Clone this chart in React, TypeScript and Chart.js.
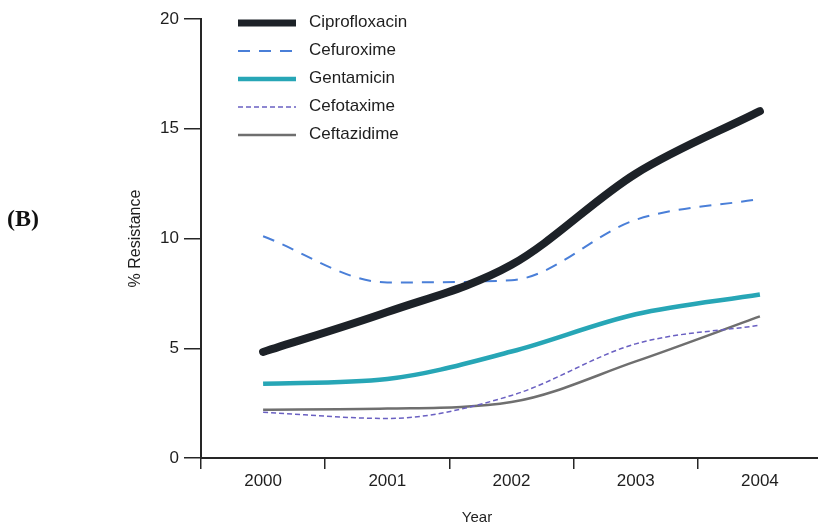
import React, { useEffect, useRef } from "react";
import { Chart, registerables } from "chart.js";

Chart.register(...registerables);

const years = ["2000", "2001", "2002", "2003", "2004"];
const ciprofloxacin = [4.83, 6.65, 8.8, 12.95, 15.8];
const cefuroxime = [10.1, 8.0, 8.1, 10.85, 11.8];
const gentamicin = [3.38, 3.6, 4.85, 6.55, 7.45];
const cefotaxime = [2.08, 1.8, 2.85, 5.2, 6.05];
const ceftazidime = [2.2, 2.25, 2.55, 4.4, 6.45];
const yTicks = [0, 5, 10, 15, 20];

const FONT = "'Liberation Sans', Arial, Helvetica, sans-serif";
const AXIS = "#262626";

const legendPlugin = {
  id: "insideLegend",
  afterDraw(chart: any, _args: any, opts: any) {
    const ctx = chart.ctx;
    const area = chart.chartArea;
    ctx.save();
    chart.data.datasets.forEach((ds: any, i: number) => {
      const y = area.top + opts.firstRow + i * opts.rowGap;
      const x0 = area.left + opts.lineStart;
      ctx.beginPath();
      ctx.strokeStyle = ds.borderColor;
      ctx.lineWidth = Math.min(ds.borderWidth, 7);
      ctx.setLineDash(ds.borderDash || []);
      ctx.moveTo(x0, y);
      ctx.lineTo(x0 + opts.lineLength, y);
      ctx.stroke();
      ctx.setLineDash([]);
      ctx.fillStyle = "#1e1e1e";
      ctx.font = `17px ${FONT}`;
      ctx.textAlign = "left";
      ctx.textBaseline = "middle";
      ctx.fillText(ds.label, x0 + opts.lineLength + opts.textGap, y - 1);
    });
    ctx.restore();
  },
};

const xTitlePlugin = {
  id: "xTitle",
  afterDraw(chart: any, _args: any, opts: any) {
    const ctx = chart.ctx;
    const area = chart.chartArea;
    ctx.save();
    ctx.fillStyle = "#1e1e1e";
    ctx.font = `15px ${FONT}`;
    ctx.textAlign = "center";
    ctx.textBaseline = "middle";
    ctx.fillText(opts.text, area.left + opts.dx, area.bottom + opts.dy);
    ctx.restore();
  },
};

export default function App() {
  const ref = useRef<HTMLCanvasElement | null>(null);
  useEffect(() => {
    if (!ref.current) return;
    const chart = new Chart(ref.current, {
      type: "line",
      data: {
        labels: years,
        datasets: [
          { label: "Ciprofloxacin", data: ciprofloxacin, borderColor: "#1d2228", borderWidth: 8, borderCapStyle: "round" },
          { label: "Cefuroxime", data: cefuroxime, borderColor: "#4a7fd8", borderWidth: 2, borderDash: [12, 9] },
          { label: "Gentamicin", data: gentamicin, borderColor: "#27a6b6", borderWidth: 4.5 },
          { label: "Cefotaxime", data: cefotaxime, borderColor: "#6a60c2", borderWidth: 1.5, borderDash: [5, 3] },
          { label: "Ceftazidime", data: ceftazidime, borderColor: "#6f6f6f", borderWidth: 2.5 },
        ] as any,
      },
      options: {
        responsive: false,
        animation: false,
        events: [],
        layout: { padding: { left: 122, top: 19, right: 8, bottom: 0 } },
        elements: {
          point: { radius: 0 },
          line: { cubicInterpolationMode: "monotone", fill: false },
        },
        plugins: {
          legend: { display: false },
          tooltip: { enabled: false },
          insideLegend: { firstRow: 4, rowGap: 28, lineStart: 37, lineLength: 58, textGap: 13 },
          xTitle: { text: "Year", dx: 276, dy: 60 },
        } as any,
        scales: {
          x: {
            type: "category",
            offset: true,
            afterFit: (s: any) => { s.height = 68; },
            grid: {
              offset: true,
              drawOnChartArea: false,
              drawTicks: true,
              tickLength: 11,
              color: AXIS,
              lineWidth: 1.5,
            },
            border: { display: true, color: AXIS, width: 2 },
            ticks: { color: "#1e1e1e", font: { family: FONT, size: 17 }, padding: 2, maxRotation: 0 },
          },
          y: {
            min: 0,
            max: 20,
            afterFit: (s: any) => { s.width = 79; },
            afterBuildTicks: (s: any) => { s.ticks = yTicks.map((v) => ({ value: v })); },
            grid: {
              drawOnChartArea: false,
              drawTicks: true,
              tickLength: 17,
              color: AXIS,
              lineWidth: 1.5,
            },
            border: { display: true, color: AXIS, width: 2 },
            ticks: { color: "#1e1e1e", font: { family: FONT, size: 17 }, padding: 5 },
            title: {
              display: true,
              text: "% Resistance",
              color: "#1e1e1e",
              font: { family: FONT, size: 16 },
              padding: { top: 4, bottom: 0 },
            },
          },
        },
      } as any,
      plugins: [legendPlugin, xTitlePlugin],
    });
    return () => chart.destroy();
  }, []);

  return (
    <div style={{ position: "absolute", left: 0, top: 0, width: 818, height: 526, overflow: "hidden", background: "#fff" }}>
      <canvas ref={ref} width={830} height={526} style={{ display: "block", width: 830, height: 526 }} />
      <div
        style={{
          position: "absolute",
          left: 7,
          top: 206,
          fontFamily: "'Liberation Serif', 'Times New Roman', serif",
          fontWeight: "bold",
          fontSize: 24,
          lineHeight: "24px",
          color: "#111",
        }}
      >
        (B)
      </div>
    </div>
  );
}
